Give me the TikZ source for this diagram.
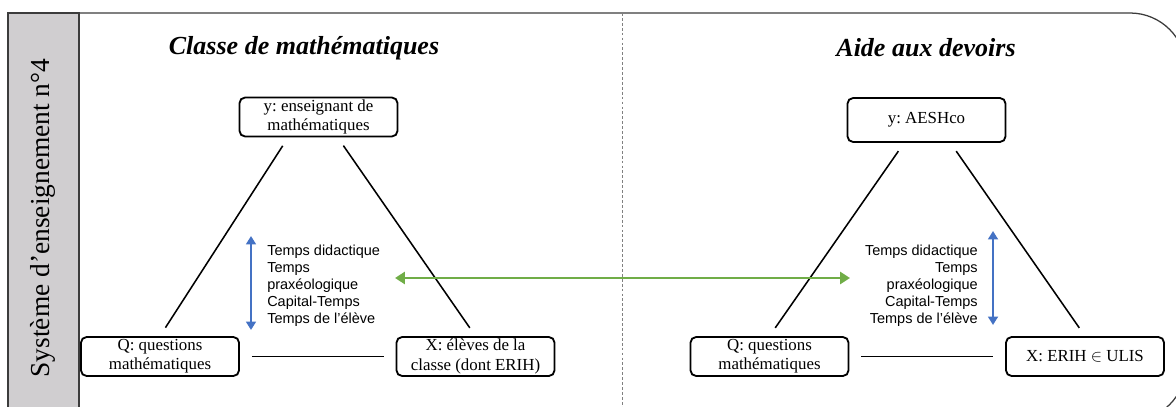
\documentclass[tikz,border=0pt]{standalone}
\usepackage{fontspec}
\setmainfont{Liberation Serif}
\newfontfamily\tempsfont{Liberation Sans}
\usetikzlibrary{arrows, arrows.meta, calc}
\frenchspacing

\definecolor{bandgrey}{RGB}{208,206,208}
\definecolor{framegrey}{RGB}{60,60,60}
\definecolor{tempsblue}{RGB}{68,114,196}
\definecolor{liengreen}{RGB}{112,173,71}

\tikzset{
  pole/.style={draw, line width=1.3pt, rounded corners=4pt, align=center,
    minimum width=3.95cm, minimum height=0.975cm, inner sep=0pt,
    font=\fontsize{12}{13.8}\selectfont},
  titre/.style={font=\fontsize{18.5}{20}\selectfont\bfseries\itshape},
  cote/.style={line width=1.1pt, shorten <=0.25cm, shorten >=0.25cm},
  temps/.style={inner sep=0pt, font=\tempsfont\fontsize{10.3}{12.1}\selectfont},
  duree/.style={tempsblue, line width=1.8pt, {Triangle[width=7pt,length=6pt]}-{Triangle[width=7pt,length=6pt]}},
  lien/.style={liengreen, line width=2.1pt, {Triangle[width=8.5pt,length=7pt]}-{Triangle[width=8.5pt,length=7pt]}}
}

\begin{document}
\begin{tikzpicture}[x=0.025cm, y=-0.025cm]
\useasboundingbox (0,0) rectangle (1176,407);

\fill[bandgrey] (8,13) rectangle (79,430);
\draw[framegrey, line width=0.9pt] (8,430) -- (8,13) -- (79,13) -- (79,430);
\draw[framegrey, line width=0.9pt, rounded corners=1.4cm] (79,13) -- (1186,13) -- (1186,421) -- (79,421);
\draw[gray, line width=0.6pt, dash pattern=on 2pt off 1.5pt] (622,13) -- (622,430);

\node[rotate=90, font=\fontsize{19.5}{20}\selectfont] (systeme) at (43,218) {Système d’enseignement n°4};

\node[titre] (titreClasse) at (304,48) {Classe de mathématiques};
\node[titre] (titreAide) at (926,48) {Aide aux devoirs};

\node[pole] (yClasse) at (318.5,117) {y: enseignant de\\mathématiques};
\node[pole] (qClasse) at (160,356.5) {Q: questions\\mathématiques};
\node[pole] (xClasse) at (475.5,356.5) {X: élèves de la\\classe (dont ERIH)};

\node[pole, minimum height=1.1cm] (yAide) at (926.5,120) {y: AESHco};
\node[pole] (qAide) at (769.5,356.5) {Q: questions\\mathématiques};
\node[pole] (xAide) at (1085,356.5) {X: ERIH $\in$ ULIS};

\draw[cote] ($(yClasse.south west)!0.31!(yClasse.south east)$) -- (qClasse.north);
\draw[cote] ($(yClasse.south west)!0.62!(yClasse.south east)$) -- (xClasse.north);
\draw[cote, shorten <=0.3cm, shorten >=0.3cm] (qClasse) -- (xClasse);

\draw[cote] ($(yAide.south west)!0.36!(yAide.south east)$) -- (qAide.north);
\draw[cote] ($(yAide.south west)!0.65!(yAide.south east)$) -- (xAide.north);
\draw[cote, shorten <=0.3cm, shorten >=0.3cm] (qAide) -- (xAide);

\node[temps, anchor=north west, align=left] (tempsClasse) at (267,245) {Temps didactique\\Temps\\praxéologique\\Capital-Temps\\Temps de l’élève};
\node[temps, anchor=north east, align=right] (tempsAide) at (978,245) {Temps didactique\\Temps\\praxéologique\\Capital-Temps\\Temps de l’élève};

\coordinate (hautClasse) at (251,236);
\coordinate (basClasse) at (251,330);
\coordinate (hautAide) at (993,231);
\coordinate (basAide) at (993,325);
\draw[duree] (hautClasse) -- (basClasse);
\draw[duree] (hautAide) -- (basAide);

\coordinate (gaucheLien) at (395,278);
\coordinate (droiteLien) at (850,278);
\draw[lien] (gaucheLien) -- (droiteLien);

\end{tikzpicture}
\end{document}
